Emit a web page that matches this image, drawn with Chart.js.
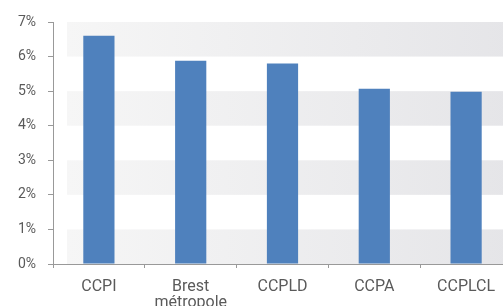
<!DOCTYPE html>
<html>
<head>
<meta charset="utf-8">
<script src="https://cdn.jsdelivr.net/npm/chart.js@4/dist/chart.umd.min.js"></script>
<style>
    html, body { margin: 0; padding: 0; background: #fff; overflow: hidden; }
    #wrap { width: 512px; height: 306px; position: relative; }
</style>
</head>
<body>
<div id="wrap"><canvas id="rateChart"></canvas></div>
<script>
const categories = ['CCPI', ['Brest', 'métropole'], 'CCPLD', 'CCPA', 'CCPLCL'];
const rates = [6.6, 5.88, 5.8, 5.07, 4.98];
const yTicks = [0, 1, 2, 3, 4, 5, 6, 7];

// alternating grey bands behind the bars
const bandsPlugin = {
    id: 'bands',
    beforeDatasetsDraw(chart) {
        const { ctx, chartArea, scales } = chart;
        const y = scales.y;
        const left = chartArea.left + 14;
        const grad = ctx.createLinearGradient(left, 0, chartArea.right, 0);
        grad.addColorStop(0, '#f6f6f6');
        grad.addColorStop(1, '#e5e5e8');
        ctx.save();
        ctx.fillStyle = grad;
        for (let i = 0; i < yTicks.length - 1; i++) {
            if ((yTicks.length - 2 - i) % 2 !== 0) continue;
            const top = y.getPixelForValue(yTicks[i + 1]);
            const bottom = y.getPixelForValue(yTicks[i]);
            ctx.fillRect(left, top, chartArea.right - left, bottom - top);
        }
        ctx.restore();
    }
};

const rateChart = () => {
    const ctx = document.getElementById('rateChart').getContext('2d');

    new Chart(ctx, {
        type: 'bar',
        data: {
            labels: categories,
            datasets: [{
                data: rates,
                backgroundColor: '#4f81bd',
                barPercentage: 0.34,
                categoryPercentage: 1,
            }]
        },
        options: {
            responsive: true,
            maintainAspectRatio: false,
            animation: false,
            layout: {
                padding: { top: 22, right: 0, bottom: 0, left: 0 }
            },
            scales: {
                y: {
                    min: 0,
                    max: 7,
                    afterFit: (scale) => { scale.width = 53; },
                    afterBuildTicks: (scale) => { scale.ticks = yTicks.map(v => ({ value: v })); },
                    ticks: {
                        callback: (v) => v + '%',
                        color: '#5a5a5a',
                        padding: 12,
                        font: { family: 'Roboto', size: 14 }
                    },
                    grid: {
                        drawOnChartArea: false,
                        tickLength: 5,
                        color: '#999'
                    },
                    border: { color: '#999' }
                },
                x: {
                    afterFit: (scale) => { scale.height = 42; },
                    ticks: {
                        color: '#5a5a5a',
                        padding: 11,
                        font: { family: 'Roboto', size: 16, lineHeight: 1.0 }
                    },
                    grid: {
                        offset: true,
                        drawOnChartArea: false,
                        tickLength: 4,
                        color: '#999'
                    },
                    border: { color: '#999' }
                }
            },
            plugins: {
                legend: { display: false },
                tooltip: { enabled: false }
            }
        },
        plugins: [bandsPlugin]
    });
}

document.addEventListener('DOMContentLoaded', rateChart);
</script>
</body>
</html>
